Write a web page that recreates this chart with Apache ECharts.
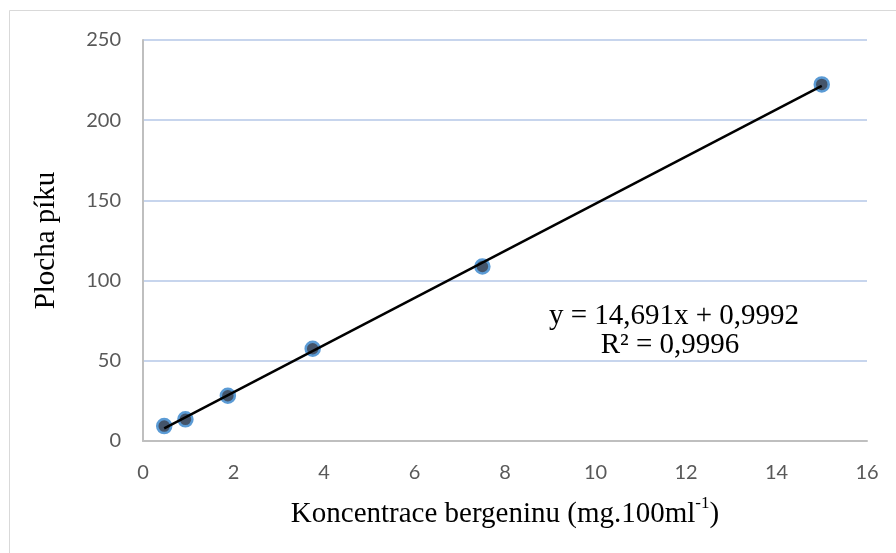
<!DOCTYPE html>
<html>
<head>
<meta charset="utf-8">
<script src="https://cdn.jsdelivr.net/npm/echarts@6/dist/echarts.min.js"></script>
<style>
  html, body { margin: 0; padding: 0; background: #fff; }
  #chart { width: 896px; height: 553px; }
</style>
</head>
<body>
<div id="chart"></div>
<script>
// Calibration data: bergenin concentration vs. peak area
const concentrations = [0.46875, 0.9375, 1.875, 3.75, 7.5, 15];
const peakAreas = [9.3, 13.5, 28.2, 57.5, 108.8, 222.3];

// Linear trendline as stated on the chart
const slope = 14.691;
const intercept = 0.9992;
const rSquared = '0,9996';
const equationText = 'y = 14,691x + 0,9992';

const xTitle = 'Koncentrace bergeninu (mg.100ml';
const xTitleSup = '-1';
const yTitle = 'Plocha píku';

const points = concentrations.map((c, i) => [c, peakAreas[i]]);
const xFirst = concentrations[0];
const xLast = concentrations[concentrations.length - 1];
const trend = [
  [xFirst, slope * xFirst + intercept],
  [xLast, slope * xLast + intercept]
];

const serif = '"Liberation Serif", "Times New Roman", serif';
const chart = echarts.init(document.getElementById('chart'), null, { renderer: 'canvas' });

const tickFont = { color: '#595959', fontFamily: 'Lato, "Open Sans", sans-serif', fontSize: 20 };

chart.setOption({
  backgroundColor: '#ffffff',
  animation: false,
  grid: { left: 143, right: 29, top: 40, bottom: 112, containLabel: false },
  xAxis: {
    type: 'value',
    min: 0, max: 16, interval: 2,
    axisLine: { show: true, lineStyle: { color: '#bfbfbf', width: 2 } },
    axisTick: { show: false },
    splitLine: { show: false },
    axisLabel: Object.assign({ margin: 22 }, tickFont),
    name: '{t|' + xTitle + '}{s|' + xTitleSup + '}{t|)}',
    nameLocation: 'middle',
    nameGap: 54,
    nameTextStyle: {
      rich: {
        t: { fontFamily: serif, fontSize: 29, color: '#000', lineHeight: 34, verticalAlign: 'bottom' },
        s: { fontFamily: serif, fontSize: 17, color: '#000', lineHeight: 34, verticalAlign: 'top' }
      }
    }
  },
  yAxis: {
    type: 'value',
    min: 0, max: 250, interval: 50,
    axisLine: { show: true, lineStyle: { color: '#bfbfbf', width: 2 } },
    axisTick: { show: false },
    splitLine: { show: true, lineStyle: { color: '#b4c7e7', width: 1.5 } },
    axisLabel: Object.assign({ margin: 22 }, tickFont),
    name: yTitle,
    nameLocation: 'middle',
    nameGap: 82,
    nameTextStyle: { fontFamily: serif, fontSize: 29, color: '#000' }
  },
  series: [
    {
      type: 'scatter',
      data: points,
      symbol: 'circle',
      symbolSize: 14,
      itemStyle: { color: '#44546a', borderColor: '#5b9bd5', borderWidth: 2.5, opacity: 1 },
      z: 2
    },
    {
      type: 'line',
      data: trend,
      showSymbol: false,
      symbol: 'none',
      lineStyle: { color: '#000000', width: 2.5 },
      z: 3
    }
  ],
  graphic: [
    {
      type: 'rect',
      shape: { x: 9.5, y: 10.5, width: 900, height: 560 },
      style: { fill: 'none', stroke: '#d9d9d9', lineWidth: 1 },
      z: -10
    },
    {
      type: 'text',
      x: 674, y: 316,
      style: {
        text: equationText,
        fontFamily: serif,
        fontSize: 29, fill: '#000', align: 'center', verticalAlign: 'middle'
      }
    },
    {
      type: 'text',
      x: 670, y: 345,
      style: {
        text: 'R² = ' + rSquared,
        fontFamily: serif,
        fontSize: 29, fill: '#000', align: 'center', verticalAlign: 'middle'
      }
    }
  ]
});
</script>
</body>
</html>
